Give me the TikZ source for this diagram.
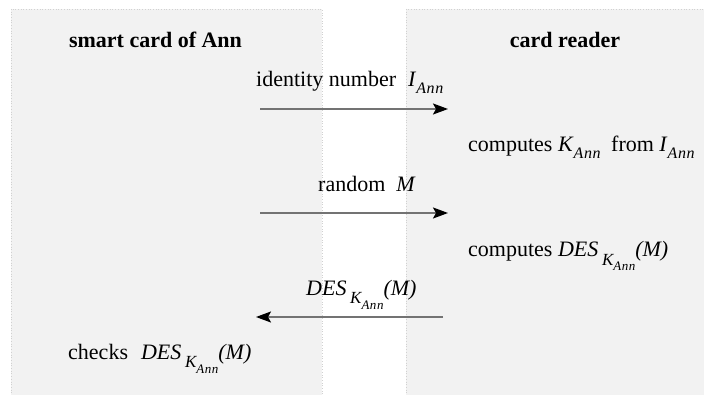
\documentclass[tikz,border=0pt]{standalone}
\usepackage{fontspec}
\setmainfont{Liberation Serif}
\usetikzlibrary{arrows.meta}
\newcommand{\AnnSub}{\raisebox{-7pt}{\fontsize{16}{16}\selectfont\itshape\addfontfeatures{LetterSpace=4}Ann}}
\newcommand{\Ksub}{\raisebox{-9pt}{\fontsize{17}{17}\selectfont\itshape K\raisebox{-5pt}{\fontsize{13}{13}\selectfont\addfontfeatures{LetterSpace=4}Ann}}}
\newcommand{\DESK}{\textit{DES}\,\Ksub\textit{(M)}}
\tikzset{
  panel/.style={fill=black!5, draw=black!18, dotted, line width=0.7pt},
  lbl/.style={inner sep=0pt, font=\fontsize{22}{26}\selectfont},
  ttl/.style={inner sep=0pt, font=\fontsize{22}{26}\selectfont\bfseries},
  msg/.style={draw=black!55, line width=2pt, -{Stealth[length=15pt,width=11pt,inset=3pt,color=black]}}
}
\begin{document}
\begin{tikzpicture}[x=1pt,y=-1pt]
\useasboundingbox (0,0) rectangle (704,395);
\clip (0,0) rectangle (704,395);
\draw[panel] (11,9) rectangle (322,420);
\draw[panel] (406,9) rectangle (720,420);
\node[ttl, anchor=base] (card) at (155.5,48) {smart card of Ann};
\node[ttl, anchor=base] (reader) at (565,48) {card reader};
\node[lbl, anchor=base west] (id) at (256,87) {identity number\hspace{12pt}\textit{I}\AnnSub};
\coordinate (a1s) at (260,109);
\coordinate (a1e) at (448,109);
\draw[msg] (a1s) -- (a1e);
\node[lbl, anchor=base west] (kcomp) at (468,152) {computes \textit{K}\AnnSub\hspace{5pt} from \textit{I}\AnnSub};
\node[lbl, anchor=base west] (rand) at (318,192) {random\hspace{11pt}\textit{M}};
\coordinate (a2s) at (260,213);
\coordinate (a2e) at (448,213);
\draw[msg] (a2s) -- (a2e);
\node[lbl, anchor=base west] (dcomp) at (468,257) {computes \DESK};
\node[lbl, anchor=base west] (dlbl) at (306,295) {\DESK};
\coordinate (a3s) at (443,317);
\coordinate (a3e) at (256,317);
\draw[msg] (a3s) -- (a3e);
\node[lbl, anchor=base west] (chk) at (68,359) {checks\hspace{13pt}\DESK};
\end{tikzpicture}
\end{document}
